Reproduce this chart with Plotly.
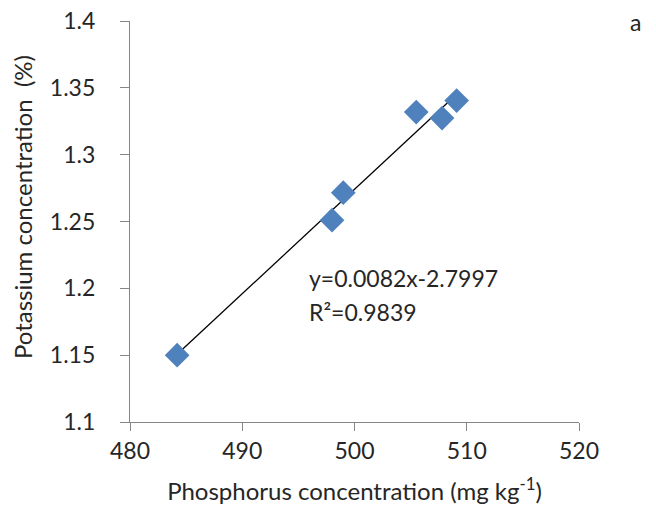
import numpy as np
import plotly.graph_objects as go

# Data
phosphorus = [484.2, 498.0, 499.0, 505.5, 507.8, 509.1]
potassium = [1.150, 1.251, 1.2716, 1.3319, 1.3274, 1.3405]
x_ticks = [480, 490, 500, 510, 520]
y_ticks = [1.1, 1.15, 1.2, 1.25, 1.3, 1.35, 1.4]
y_tick_labels = ["1.1", "1.15", "1.2", "1.25", "1.3", "1.35", "1.4"]
equation_text = "y=0.0082x-2.7997"
r2_text = "R²=0.9839"
y_title = "Potassium concentration  (%)"
x_title = "Phosphorus concentration (mg kg<sup>-1</sup>)"

FONT = "Lato, Carlito, Calibri, sans-serif"
TXT = "#262626"
AX = "#868686"
FS = 23

W, H = 656, 505
L, T = 130, 21
R = W - 579
B = H - 422
PW, PH = W - L - R, H - T - B


def px_to_paper(px, py):
    return (px - L) / PW, 1 - (py - T) / PH


slope, intercept = np.polyfit(phosphorus, potassium, 1)
fit_x = [min(phosphorus), max(phosphorus)]
fit_y = [slope * v + intercept for v in fit_x]

fig = go.Figure()
fig.add_trace(go.Scatter(
    x=fit_x, y=fit_y, mode="lines",
    line=dict(color="black", width=1.3), showlegend=False, hoverinfo="skip"))
fig.add_trace(go.Scatter(
    x=phosphorus, y=potassium, mode="markers",
    marker=dict(symbol="diamond", size=19, color="#4F81BD", line=dict(width=0)),
    showlegend=False))

ytx, yty = px_to_paper(22, 207)
ax_, ay_ = px_to_paper(635, 22)

fig.update_layout(
    width=W, height=H,
    margin=dict(l=L, r=R, t=T, b=B, autoexpand=False),
    paper_bgcolor="white", plot_bgcolor="white",
    font=dict(family=FONT, size=FS, color=TXT),
    xaxis=dict(
        range=[480, 520], tickvals=x_ticks, ticks="outside", ticklen=8,
        tickcolor=AX, showline=True, linecolor=AX, linewidth=1.3,
        showgrid=False, zeroline=False, tickfont=dict(size=FS, color=TXT),
        automargin=False, ticklabeloverflow="allow",
        title=dict(text=x_title, font=dict(size=24, color=TXT), standoff=20)),
    yaxis=dict(
        range=[1.1, 1.4], tickvals=y_ticks, ticktext=y_tick_labels,
        ticks="outside", ticklen=9, tickcolor=AX, showline=True,
        linecolor=AX, linewidth=1.3, showgrid=False, zeroline=False,
        tickfont=dict(size=FS, color=TXT), ticklabelstandoff=20,
        automargin=False, ticklabeloverflow="allow"),
    annotations=[
        dict(x=495.8, y=1.208, xref="x", yref="y", text=equation_text,
             showarrow=False, xanchor="left", yanchor="middle",
             font=dict(size=FS, color=TXT)),
        dict(x=495.8, y=1.182, xref="x", yref="y", text=r2_text,
             showarrow=False, xanchor="left", yanchor="middle",
             font=dict(size=FS, color=TXT)),
        dict(x=ytx, y=yty, xref="paper", yref="paper", text=y_title,
             textangle=-90, showarrow=False, xanchor="center",
             yanchor="middle", font=dict(size=24, color=TXT)),
        dict(x=ax_, y=ay_, xref="paper", yref="paper", text="a",
             showarrow=False, xanchor="center", yanchor="middle",
             font=dict(size=FS, color=TXT)),
    ],
)

fig.write_html(
    "out.html",
    config={"displayModeBar": False},
    post_script="document.body.style.margin='0';"
                "document.body.style.overflow='hidden';")
